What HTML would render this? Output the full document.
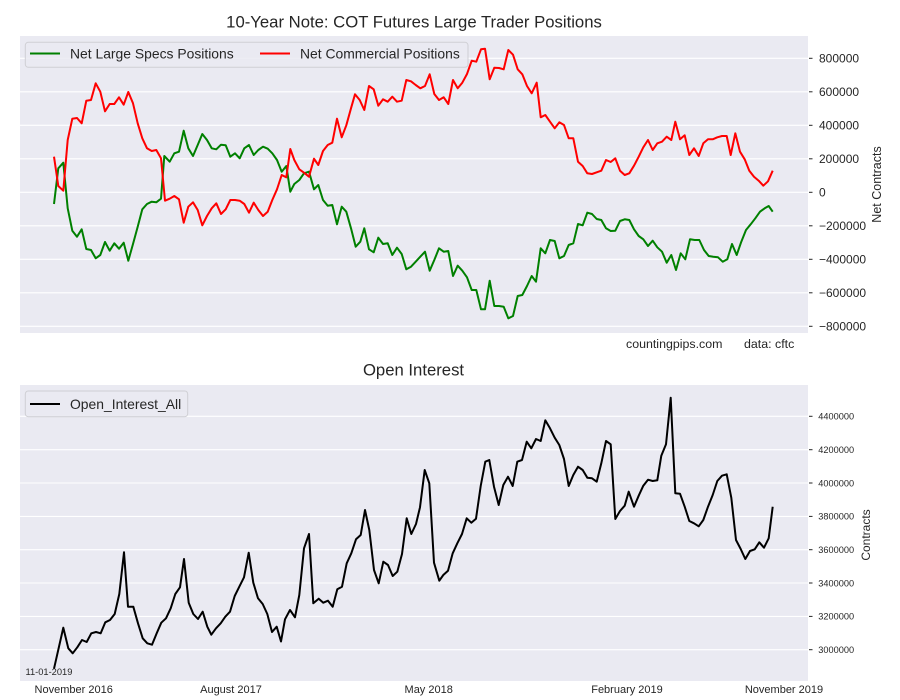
<!DOCTYPE html>
<html>
<head>
<meta charset="utf-8">
<style>
html,body{margin:0;padding:0;background:#fff;}
svg{display:block;}
text{font-family:"Liberation Sans",Arial,sans-serif;fill:#262626;}
</style>
</head>
<body>
<svg width="900" height="700" viewBox="0 0 900 700" xmlns="http://www.w3.org/2000/svg">
<rect x="0" y="0" width="900" height="700" fill="#ffffff"/>

<!-- ============ TOP CHART ============ -->
<text x="414" y="27.3" font-size="16.7" text-anchor="middle">10-Year Note: COT Futures Large Trader Positions</text>
<rect x="20" y="36" width="788" height="297" fill="#eaeaf2"/>
<g stroke="#ffffff" stroke-width="1.1">
<line x1="20" x2="808" y1="58.3" y2="58.3"/>
<line x1="20" x2="808" y1="91.8" y2="91.8"/>
<line x1="20" x2="808" y1="125.3" y2="125.3"/>
<line x1="20" x2="808" y1="158.8" y2="158.8"/>
<line x1="20" x2="808" y1="192.3" y2="192.3"/>
<line x1="20" x2="808" y1="225.8" y2="225.8"/>
<line x1="20" x2="808" y1="259.3" y2="259.3"/>
<line x1="20" x2="808" y1="292.8" y2="292.8"/>
<line x1="20" x2="808" y1="326.3" y2="326.3"/>
</g>
<defs>
<clipPath id="c1"><rect x="20" y="36" width="788" height="297"/></clipPath>
<clipPath id="c2"><rect x="20" y="385" width="788" height="296"/></clipPath>
</defs>
<g clip-path="url(#c1)" fill="none" stroke-width="2" stroke-linejoin="round">
<polyline stroke="#008000" points="54,204 58.3,168.3 63.3,162.7 67.7,208.3 72.3,230.7 77,236.7 81.7,229.3 86.3,249 91,250 95.7,258.3 100.3,255 105,242 109.7,250.7 114.3,243.3 119,248.7 123.7,242.7 128.3,260.7 133,244 137.7,226.7 142.3,209.3 147,204 151.7,201.7 156.3,202.3 161,198.7 164.3,156 169.7,161.7 174.3,153.3 179,151.7 183.7,130.7 188.3,148.3 193,156 197.7,145 202.3,134 207,140 211.7,148.3 216.3,149.3 221,144.7 225.7,145.3 230.3,156.7 235,153.3 239.7,158.3 244.3,148.3 249,145 253.7,155 258.3,150 263,146.7 267.7,148.7 272.3,153.3 277,160 281.7,171.7 286.3,166 290.3,191.7 294.3,184 299.3,180 304,173.3 309,171.7 314,189.3 318.3,185 323,200 327.7,205.7 332.3,205 337,224.3 341.7,206.7 346.3,211.7 351,228.3 355.7,246.7 360.3,241.7 364.3,228.3 369,249.3 373.7,252.3 378.3,237.7 383,244 387.7,243.3 392.3,255 397,247.7 401.7,254 406.3,269.3 411,266.7 415.7,261.7 420.3,256.7 425,251.7 429.7,270.7 434.3,260 439,248.3 443.7,251.7 448.3,251 453,276 457.7,265.7 462.3,270.7 467,277.3 471.7,290 476.3,290 481,309.3 485,309.3 489.7,280.7 494.3,306 499,306 503.7,306.7 508.3,318.3 513,316 517.7,296 522.3,295 527,286 531.7,276 536,281.7 540.7,248.3 545.3,253.3 550,240 554.7,241 559.3,258.3 564,256 568.7,245 573.3,243.3 578,224 582.7,225.3 587.3,212.7 592,214 596.7,219 601.3,220 606,228.3 610.7,231 615.3,230.7 620,221 624.7,219.3 629.3,220 634,229.3 638.7,236 643.3,239.3 648,246 652.7,240.7 657.3,247.3 662,251.7 666.7,262.7 671.3,255 676,270 680.7,253.3 685.3,259.3 690,239.3 694.7,240 699.3,240 704,250 708.7,256 713.3,256.7 718,257.3 722.7,261.7 727.3,259.3 732,244 736.7,255 741.3,241.7 746,230 750.7,224.3 755.3,218.3 760,211.7 764.7,208.3 768.7,206 772.7,211.7"/>
<polyline stroke="#ff0000" points="54,156.7 58.3,186 63.3,190.7 67.7,140 72.3,118.7 77,118 81.7,123.3 86.3,100.7 91,100 95.7,83.3 100.3,91.7 105,111.3 109.7,104 114.3,104 119,97.3 123.7,104.7 128.3,92 133,103.3 137.7,123.3 142.3,138.3 147,148.3 151.7,151 156.3,150 161,158.3 165,200.7 169.7,198.7 174.3,196 179,199.3 183.7,222.7 188.3,206.7 193,202.3 197.7,210 202.3,225.3 207,216 211.7,208.3 216.3,203.3 221,214 225.7,209.3 230.3,200 235,200 239.7,200.7 244.3,204 249,212.7 253.7,202.7 258.3,210 263,216 267.7,211.7 272.3,200 277,189.3 281.7,175 286.3,177.3 290.3,149 294.3,160 299.3,169.3 304,172.7 309,176.7 314,158.7 318.3,165 323,151 327.7,145 332.3,142.7 337,118.7 341.7,137.3 346.3,125.3 351,108.3 355,94.3 359.7,100 364.3,110 369,86 373.7,89.3 378.3,105.7 383,99.3 387.7,101.7 392.3,96.7 397,101.7 401.7,100.7 406.3,80 411,81.3 415.7,85 420.3,88.3 425,86 429.7,74.3 434.3,94 439,100 443.7,97.3 448.3,104 453,80 457.7,88.3 462.3,82.7 467,74 471.7,60.7 476.3,61.7 481,49.3 485,48.7 489.7,79.3 494.3,67.7 499,68 503.7,69.3 508.3,50 513,54.7 517.7,69.3 522.3,74.3 527,86 531.7,93.3 536.7,82.7 540.7,117.3 545.3,115 550,121.7 554.7,128.3 559.3,122.3 564,125 568.7,138.3 573.3,138.3 578,161.7 582.7,166 587.3,173.3 592,174 596.7,172.3 601.3,170.7 606,160 610.7,162 615.3,158.3 620,170.7 624.7,175 629.3,173.3 634,165.7 638.7,156.7 643.3,147.3 648,140 652.7,150 657.3,143.3 662,141.7 666.7,136.7 671.3,140 675.3,121.7 680,139.3 684.7,135.3 689.3,155 694,148.3 698.7,156 703.3,143.3 708,139.3 712.7,139.3 717.3,137.3 722,136 726.7,136 730.7,155 735.3,133.3 740,151.7 744.7,159.3 749.3,170.7 754,176.7 758.7,180.7 763.3,185.7 768,181.3 772.7,170.7"/>
</g>
<!-- top legend -->
<rect x="25.3" y="42.3" width="442.7" height="25" rx="3" ry="3" fill="#eaeaf2" fill-opacity="0.85" stroke="#cfcfd4" stroke-width="1"/>
<line x1="30" x2="60" y1="53.5" y2="53.5" stroke="#008000" stroke-width="2"/>
<text x="70" y="58.6" font-size="13.9">Net Large Specs Positions</text>
<line x1="260" x2="290" y1="53.5" y2="53.5" stroke="#ff0000" stroke-width="2"/>
<text x="300" y="58.6" font-size="13.9">Net Commercial Positions</text>
<!-- top y ticks -->
<g stroke="#262626" stroke-width="1">
<line x1="809" x2="812.5" y1="58.3" y2="58.3"/>
<line x1="809" x2="812.5" y1="91.8" y2="91.8"/>
<line x1="809" x2="812.5" y1="125.3" y2="125.3"/>
<line x1="809" x2="812.5" y1="158.8" y2="158.8"/>
<line x1="809" x2="812.5" y1="192.3" y2="192.3"/>
<line x1="809" x2="812.5" y1="225.8" y2="225.8"/>
<line x1="809" x2="812.5" y1="259.3" y2="259.3"/>
<line x1="809" x2="812.5" y1="292.8" y2="292.8"/>
<line x1="809" x2="812.5" y1="326.3" y2="326.3"/>
</g>
<g font-size="12">
<text x="819" y="62.6">800000</text>
<text x="819" y="96.1">600000</text>
<text x="819" y="129.6">400000</text>
<text x="819" y="163.1">200000</text>
<text x="819" y="196.6">0</text>
<text x="819" y="230.1">−200000</text>
<text x="819" y="263.6">−400000</text>
<text x="819" y="297.1">−600000</text>
<text x="819" y="330.6">−800000</text>
</g>
<text transform="translate(881.2,184.5) rotate(-90)" font-size="12.5" text-anchor="middle">Net Contracts</text>
<text x="626" y="347.8" font-size="12.4">countingpips.com</text>
<text x="744" y="347.8" font-size="12.4">data: cftc</text>

<!-- ============ BOTTOM CHART ============ -->
<text x="413.5" y="375.7" font-size="16.7" text-anchor="middle">Open Interest</text>
<rect x="20" y="385" width="788" height="296" fill="#eaeaf2"/>
<g stroke="#ffffff" stroke-width="1.1">
<line x1="20" x2="808" y1="416.3" y2="416.3"/>
<line x1="20" x2="808" y1="449.7" y2="449.7"/>
<line x1="20" x2="808" y1="483" y2="483"/>
<line x1="20" x2="808" y1="516.4" y2="516.4"/>
<line x1="20" x2="808" y1="549.7" y2="549.7"/>
<line x1="20" x2="808" y1="583" y2="583"/>
<line x1="20" x2="808" y1="616.4" y2="616.4"/>
<line x1="20" x2="808" y1="649.7" y2="649.7"/>
</g>
<g clip-path="url(#c2)" fill="none" stroke-width="2" stroke-linejoin="round">
<polyline stroke="#000000" points="54,668.7 63.3,627.7 68.3,648.3 72.7,653.3 77.3,647.3 82,640 86.7,642 91.3,633.3 96,632 100.7,633.3 105.3,622.3 110,620 114.7,614 119.3,594 124,552.3 128,606.7 133.3,606.7 138,623.3 142.7,638.3 147.3,643.3 152,644.7 156.7,633.3 161.3,622.7 166,618.3 170.7,608.3 175.3,594 180,587.3 184,559 188.7,602.7 193.3,614 198,619 202.7,611.7 207.3,626.7 211.3,634.7 216,628.3 220.7,623.3 225.3,616.7 230,611.7 234.7,596 239.3,586.7 244,577.3 248.7,552.7 253.3,582.7 258,598.3 262.7,604 267.3,614 272,632 276.7,626.7 281,641.5 285,619.3 290,610 295,617.3 299.3,595 304,548.3 309,534 313.3,603.3 318.7,598.7 323.3,602.7 328,600.7 332.7,606.7 337.3,589.3 342,586.7 346.7,563.3 351.3,553.3 356,539.3 360.7,535 365,510 369.3,530 374,570 378.7,583.3 383.3,561.7 388,565 392.7,576 397.3,571.7 402,554 406.7,518.3 411.3,534 416,524 420,507.3 424.7,470 429.3,483.3 434,562.7 439.3,580.7 443.3,575 448,570.7 452.7,553.3 457.3,543.3 462,534 466.7,518.3 471.3,522.7 476,518.7 480.7,486 485.3,461.7 489.3,460 494,486.7 498.7,505 503.3,485 508,476.7 512.7,486 517.3,461.7 522,460 526.7,441.7 531.3,448.3 536,439 540.7,441 545.3,420.3 550,428.3 554.7,437.7 559.3,445 564,459 568.7,486 573.3,475 578,466.7 582.7,470 587.3,477.7 592,478.3 596.7,481.7 601.3,463.3 606,441 610.7,444.3 615.3,519 620,511 624.7,505.7 628.7,491.7 634,506.7 638.7,495.7 643.3,485.7 648,479.7 652.7,481 657.3,480.3 661.3,455.7 666,444.3 670.7,397.7 675.3,493.3 680,493.7 684.7,506.7 689.3,521 694,523.3 698.7,526.3 703.3,520 708,506.7 712.7,495 717.3,481 722,475.7 726.7,474.3 731.3,497.7 736,540 740.7,549 745.3,559 750,551 754.7,549.3 759.3,542.3 764,547.7 768.7,538.3 772.7,506.7"/>
</g>
<!-- bottom legend -->
<rect x="25.3" y="391" width="162.4" height="25.7" rx="3" ry="3" fill="#eaeaf2" fill-opacity="0.85" stroke="#cfcfd4" stroke-width="1"/>
<line x1="30" x2="60" y1="404" y2="404" stroke="#000000" stroke-width="2"/>
<text x="70" y="409" font-size="13.9">Open_Interest_All</text>
<text x="25.5" y="675" font-size="9.3">11-01-2019</text>
<!-- bottom y ticks -->
<g stroke="#262626" stroke-width="1">
<line x1="809" x2="812.5" y1="416.3" y2="416.3"/>
<line x1="809" x2="812.5" y1="449.7" y2="449.7"/>
<line x1="809" x2="812.5" y1="483" y2="483"/>
<line x1="809" x2="812.5" y1="516.4" y2="516.4"/>
<line x1="809" x2="812.5" y1="549.7" y2="549.7"/>
<line x1="809" x2="812.5" y1="583" y2="583"/>
<line x1="809" x2="812.5" y1="616.4" y2="616.4"/>
<line x1="809" x2="812.5" y1="649.7" y2="649.7"/>
</g>
<g font-size="9.2">
<text x="818.3" y="419.6">4400000</text>
<text x="818.3" y="453">4200000</text>
<text x="818.3" y="486.3">4000000</text>
<text x="818.3" y="519.7">3800000</text>
<text x="818.3" y="553">3600000</text>
<text x="818.3" y="586.3">3400000</text>
<text x="818.3" y="619.7">3200000</text>
<text x="818.3" y="653">3000000</text>
</g>
<text transform="translate(870,535) rotate(-90)" font-size="12" text-anchor="middle">Contracts</text>
<!-- x labels -->
<g font-size="11" text-anchor="middle">
<text x="73.7" y="693.2">November 2016</text>
<text x="231" y="693.2">August 2017</text>
<text x="428.7" y="693.2">May 2018</text>
<text x="627" y="693.2">February 2019</text>
<text x="784" y="693.2">November 2019</text>
</g>
</svg>
</body>
</html>
